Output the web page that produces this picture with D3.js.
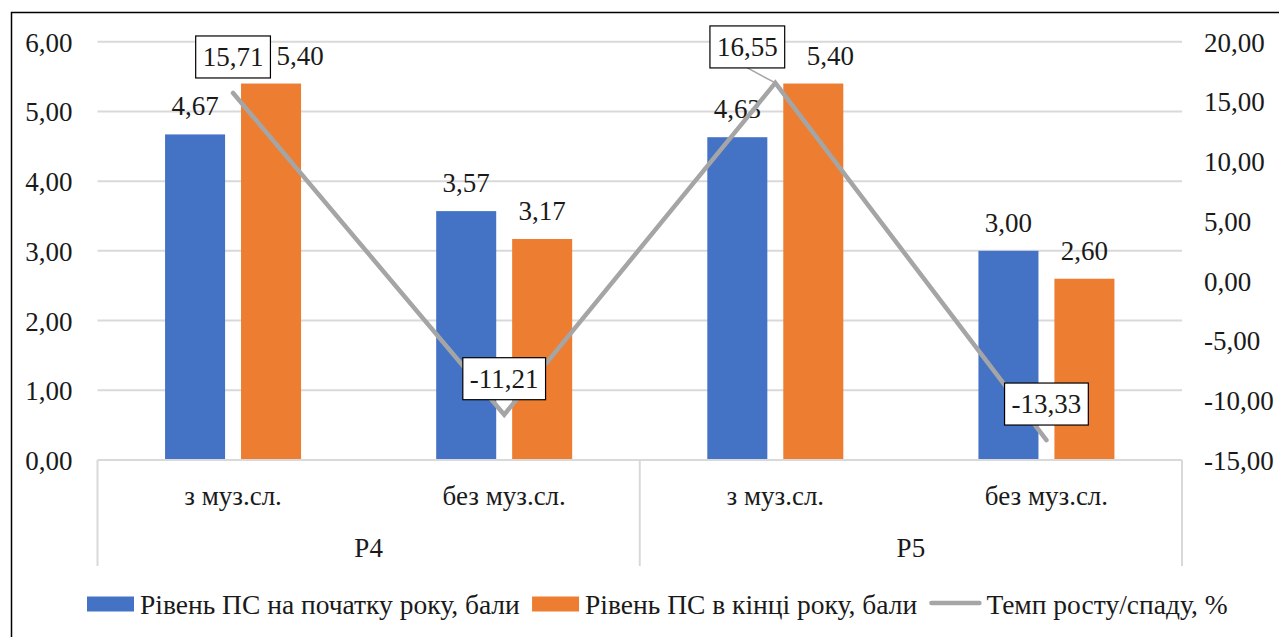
<!DOCTYPE html>
<html>
<head>
<meta charset="utf-8">
<script src="https://cdn.jsdelivr.net/npm/d3@7"></script>
<style>
  html, body { margin: 0; padding: 0; background: #fff; }
  svg { display: block; }
</style>
</head>
<body>
<svg id="chart" width="1279" height="637"></svg>
<script>
// Data
const groups = ["P4", "P5"];
const categories = ["з муз.сл.", "без муз.сл.", "з муз.сл.", "без муз.сл."];
const categoryGroup = ["P4", "P4", "P5", "P5"];
const seriesNames = ["Рівень ПС на початку року, бали", "Рівень ПС в кінці року, бали", "Темп росту/спаду, %"];
const startLevel = [4.67, 3.57, 4.63, 3.00];
const endLevel = [5.40, 3.17, 5.40, 2.60];
const growthRate = [15.71, -11.21, 16.55, -13.33];
const leftTicks = [0, 1, 2, 3, 4, 5, 6];
const rightTicks = [-15, -10, -5, 0, 5, 10, 15, 20];

const colors = ["#4472c4", "#ed7d31", "#a5a5a5"];
const FONT = '"Liberation Serif"';
const FONT_SIZE = 27;
const LEGEND_FONT_SIZE = 27.5;
const TEXT_FILL = "#1a1a1a";
const fmt = v => v.toFixed(2).replace(".", ",");
const styleText = sel => sel.style("font-family", FONT).attr("fill", TEXT_FILL).attr("font-size", FONT_SIZE);

const svg = d3.select("#chart");

// Outer frame
svg.append("rect")
  .attr("x", 11.5).attr("y", 12.5)
  .attr("width", 1400).attr("height", 800)
  .attr("fill", "none").attr("stroke", "#000").attr("stroke-width", 1.5);

const plot = { left: 97.5, right: 1182, top: 41.7, bottom: 460 };

const x = d3.scaleBand()
  .domain(d3.range(categories.length))
  .range([plot.left, plot.right])
  .padding(0);

const xInner = d3.scaleBand()
  .domain([0, 1])
  .range([0, 136])
  .paddingInner(0.21)
  .paddingOuter(0);

const yLeft = d3.scaleLinear().domain([0, 6]).range([plot.bottom, plot.top]);
const yRight = d3.scaleLinear().domain([-15, 20]).range([plot.bottom, plot.top]);

// Gridlines
svg.append("g")
  .selectAll("line")
  .data(leftTicks.filter(d => d > 0))
  .join("line")
  .attr("x1", plot.left).attr("x2", plot.right)
  .attr("y1", d => yLeft(d)).attr("y2", d => yLeft(d))
  .attr("stroke", "#d9d9d9").attr("stroke-width", 2);

// Left axis
const leftAxis = svg.append("g")
  .attr("transform", `translate(${plot.left - 25},0)`)
  .call(d3.axisLeft(yLeft).tickValues(leftTicks).tickFormat(fmt).tickSize(0).tickPadding(0));
leftAxis.attr("font-family", null).attr("font-size", null);
leftAxis.select(".domain").remove();
leftAxis.selectAll("text").call(styleText).attr("dy", "0.35em");

// Right axis
const rightAxis = svg.append("g")
  .attr("transform", `translate(${plot.right + 22},0)`)
  .call(d3.axisRight(yRight).tickValues(rightTicks).tickFormat(fmt).tickSize(0).tickPadding(0));
rightAxis.attr("font-family", null).attr("font-size", null);
rightAxis.select(".domain").remove();
rightAxis.selectAll("text").call(styleText).attr("dy", "0.35em");

// Bars
const series = [startLevel, endLevel];
const barLabelShift = [[0, 0, 0, 0], [29, 0, 17, 0]];
const barX = (i, s) => x(i) + x.bandwidth() / 2 - 68 + xInner(s);
series.forEach((vals, s) => {
  const g = svg.append("g");
  g.selectAll("rect")
    .data(vals)
    .join("rect")
    .attr("x", (d, i) => barX(i, s))
    .attr("y", d => yLeft(d))
    .attr("width", xInner.bandwidth())
    .attr("height", d => yLeft(0) - yLeft(d))
    .attr("fill", colors[s]);
  g.selectAll("text")
    .data(vals)
    .join("text")
    .attr("x", (d, i) => barX(i, s) + xInner.bandwidth() / 2 + barLabelShift[s][i])
    .attr("y", d => yLeft(d) - 19)
    .attr("text-anchor", "middle")
    .call(styleText)
    .text(fmt);
});

// Category axis
const axisG = svg.append("g");
axisG.append("line")
  .attr("x1", plot.left).attr("x2", plot.right)
  .attr("y1", plot.bottom).attr("y2", plot.bottom)
  .attr("stroke", "#d9d9d9").attr("stroke-width", 2);

const groupBounds = groups.map(gname => {
  const idx = d3.range(categories.length).filter(i => categoryGroup[i] === gname);
  return { name: gname, x0: x(idx[0]), x1: x(idx[idx.length - 1]) + x.bandwidth() };
});
const dividers = [groupBounds[0].x0, ...groupBounds.map(g => g.x1)];
axisG.selectAll("line.div")
  .data(dividers)
  .join("line")
  .attr("class", "div")
  .attr("x1", d => d).attr("x2", d => d)
  .attr("y1", plot.bottom).attr("y2", 566)
  .attr("stroke", "#d9d9d9").attr("stroke-width", 2);

axisG.selectAll("text.cat")
  .data(categories)
  .join("text")
  .attr("class", "cat")
  .attr("x", (d, i) => x(i) + x.bandwidth() / 2)
  .attr("y", 505)
  .attr("text-anchor", "middle")
  .call(styleText)
  .text(d => d);

axisG.selectAll("text.grp")
  .data(groupBounds)
  .join("text")
  .attr("class", "grp")
  .attr("x", d => (d.x0 + d.x1) / 2)
  .attr("y", 557)
  .attr("text-anchor", "middle")
  .call(styleText)
  .text(d => d.name);

// Growth rate line
const pts = growthRate.map((v, i) => [x(i) + x.bandwidth() / 2, yRight(v)]);
svg.append("path")
  .attr("d", d3.line()(pts))
  .attr("fill", "none")
  .attr("stroke", colors[2])
  .attr("stroke-width", 4.5)
  .attr("stroke-linecap", "round")
  .attr("stroke-linejoin", "miter");

// Boxed labels for the line
const lineLabelShift = [0, 0, -28, 0];
const lblG = svg.append("g");
growthRate.forEach((v, i) => {
  const cx = pts[i][0] + lineLabelShift[i];
  const cy = pts[i][1] - 36;
  const g = lblG.append("g");
  const t = g.append("text")
    .attr("x", cx).attr("y", cy)
    .attr("dy", "0.35em")
    .attr("text-anchor", "middle")
    .call(styleText)
    .text(fmt(v));
  const w = t.node().getComputedTextLength() + 14;
  const h = 42;
  if (lineLabelShift[i] !== 0) {
    lblG.insert("line", ":first-child")
      .attr("x1", cx).attr("y1", cy + h / 2)
      .attr("x2", pts[i][0]).attr("y2", pts[i][1])
      .attr("stroke", colors[2]).attr("stroke-width", 1.5);
  }
  g.insert("rect", "text")
    .attr("x", cx - w / 2).attr("y", cy - h / 2)
    .attr("width", w).attr("height", h)
    .attr("fill", "#fff").attr("stroke", "#000").attr("stroke-width", 1.2);
});

// Legend
const legend = svg.append("g");
const legendY = 604;
const items = legend.selectAll("g")
  .data(seriesNames)
  .join("g");
items.each(function (d, i) {
  const g = d3.select(this);
  if (i < 2) {
    g.append("rect").attr("x", 0).attr("y", legendY - 7.5)
      .attr("width", 47).attr("height", 15).attr("fill", colors[i]);
  } else {
    g.append("line").attr("x1", 2).attr("x2", 50)
      .attr("y1", legendY - 1).attr("y2", legendY - 1)
      .attr("stroke", colors[2]).attr("stroke-width", 4.5).attr("stroke-linecap", "round");
  }
  g.append("text")
    .attr("x", i < 2 ? 53 : 57)
    .attr("y", legendY)
    .attr("dy", "0.35em")
    .call(styleText)
    .attr("font-size", LEGEND_FONT_SIZE)
    .text(d);
});
let cursor = 87;
items.attr("transform", function () {
  const tx = cursor;
  cursor += this.getBBox().width + 12;
  return `translate(${tx},0)`;
});
</script>
</body>
</html>
